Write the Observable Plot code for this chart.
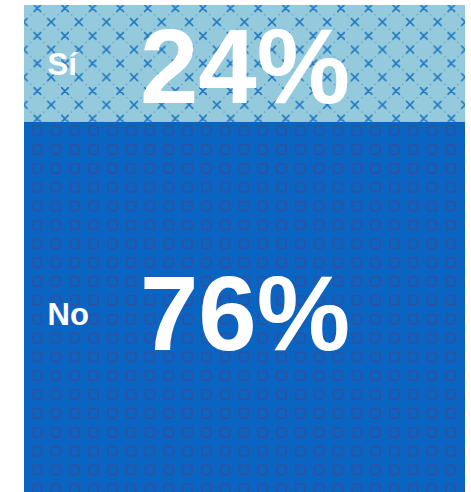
<!DOCTYPE html>
<html>
<head>
<meta charset="utf-8">
<script src="https://cdn.jsdelivr.net/npm/d3@7"></script>
<script src="https://cdn.jsdelivr.net/npm/@observablehq/plot@0.6"></script>
<style>
  html, body { margin: 0; padding: 0; background: #ffffff; }
  #chart svg { display: block; }
</style>
</head>
<body>
<div id="chart"></div>
<script>
// Data
const answers = ["Sí", "No"];
const values = [24, 76];
const data = answers.map((a, i) => ({answer: a, value: values[i]}));

const patternIds = ["url(#pat-si)", "url(#pat-no)"];
const font = "'Liberation Sans', Arial, Helvetica, sans-serif";
const col = () => "all";

function label(a, dy) {
  return Plot.text(data, Plot.filter(d => d.answer === a, Plot.stackY({
    x: col, y: "value", text: "answer",
    textAnchor: "start", dx: -197.5, dy,
    fill: "white", fontWeight: "bold", fontSize: 31, fontFamily: font
  })));
}
function pct(a, dy) {
  return Plot.text(data, Plot.filter(d => d.answer === a, Plot.stackY({
    x: col, y: "value", text: d => d.value + "%",
    textAnchor: "middle", dx: 0, dy,
    fill: "white", fontWeight: "bold", fontSize: 105, fontFamily: font
  })));
}

const chart = Plot.plot({
  width: 471,
  height: 492,
  marginTop: 5,
  marginBottom: 0,
  marginLeft: 24,
  marginRight: 6,
  x: {axis: null, padding: 0},
  y: {axis: null, domain: [0, 100], reverse: true},
  color: {domain: answers, range: patternIds},
  marks: [
    Plot.barY(data, Plot.stackY({x: col, y: "value", fill: "answer"})),
    label("Sí", 1),
    pct("Sí", 5.5),
    label("No", 7.5),
    pct("No", 8.5)
  ]
});

// Pattern definitions
const W = 27.6, H = 27.6;
function xmark(cx, cy) {
  const s = 3.3;
  return `<path d="M${cx - s},${cy - s}L${cx + s},${cy + s}M${cx + s},${cy - s}L${cx - s},${cy + s}" stroke="#1c76c2" stroke-width="1.5" stroke-linecap="round"/>`;
}
const siPattern = `
<pattern id="pat-si" patternUnits="userSpaceOnUse" x="23.6" y="22" width="${W}" height="${H}">
  <rect x="0" y="0" width="${W}" height="${H}" fill="#95cadc"/>
  <path d="M0,0L${W},${H}M${W},0L0,${H}" stroke="#2f86c6" stroke-width="1" stroke-dasharray="1.1 3.6" stroke-dashoffset="-5"/>
  ${xmark(0, 0)}${xmark(W, 0)}${xmark(0, H)}${xmark(W, H)}${xmark(W / 2, H / 2)}
</pattern>`;
const SW = 18.8, SH = 18.85;
const noPattern = `
<pattern id="pat-no" patternUnits="userSpaceOnUse" x="31.7" y="125.3" width="${SW}" height="${SH}">
  <rect x="0" y="0" width="${SW}" height="${SH}" fill="#0a65c2"/>
  <rect x="0.8" y="0.8" width="9.2" height="9.2" rx="2.2" ry="2.2" fill="none" stroke="#2f4f9f" stroke-width="1.6"/>
</pattern>`;

const ns = "http://www.w3.org/2000/svg";
const defs = document.createElementNS(ns, "defs");
defs.innerHTML = siPattern + noPattern;
chart.insertBefore(defs, chart.firstChild);

document.getElementById("chart").appendChild(chart);
</script>
</body>
</html>
